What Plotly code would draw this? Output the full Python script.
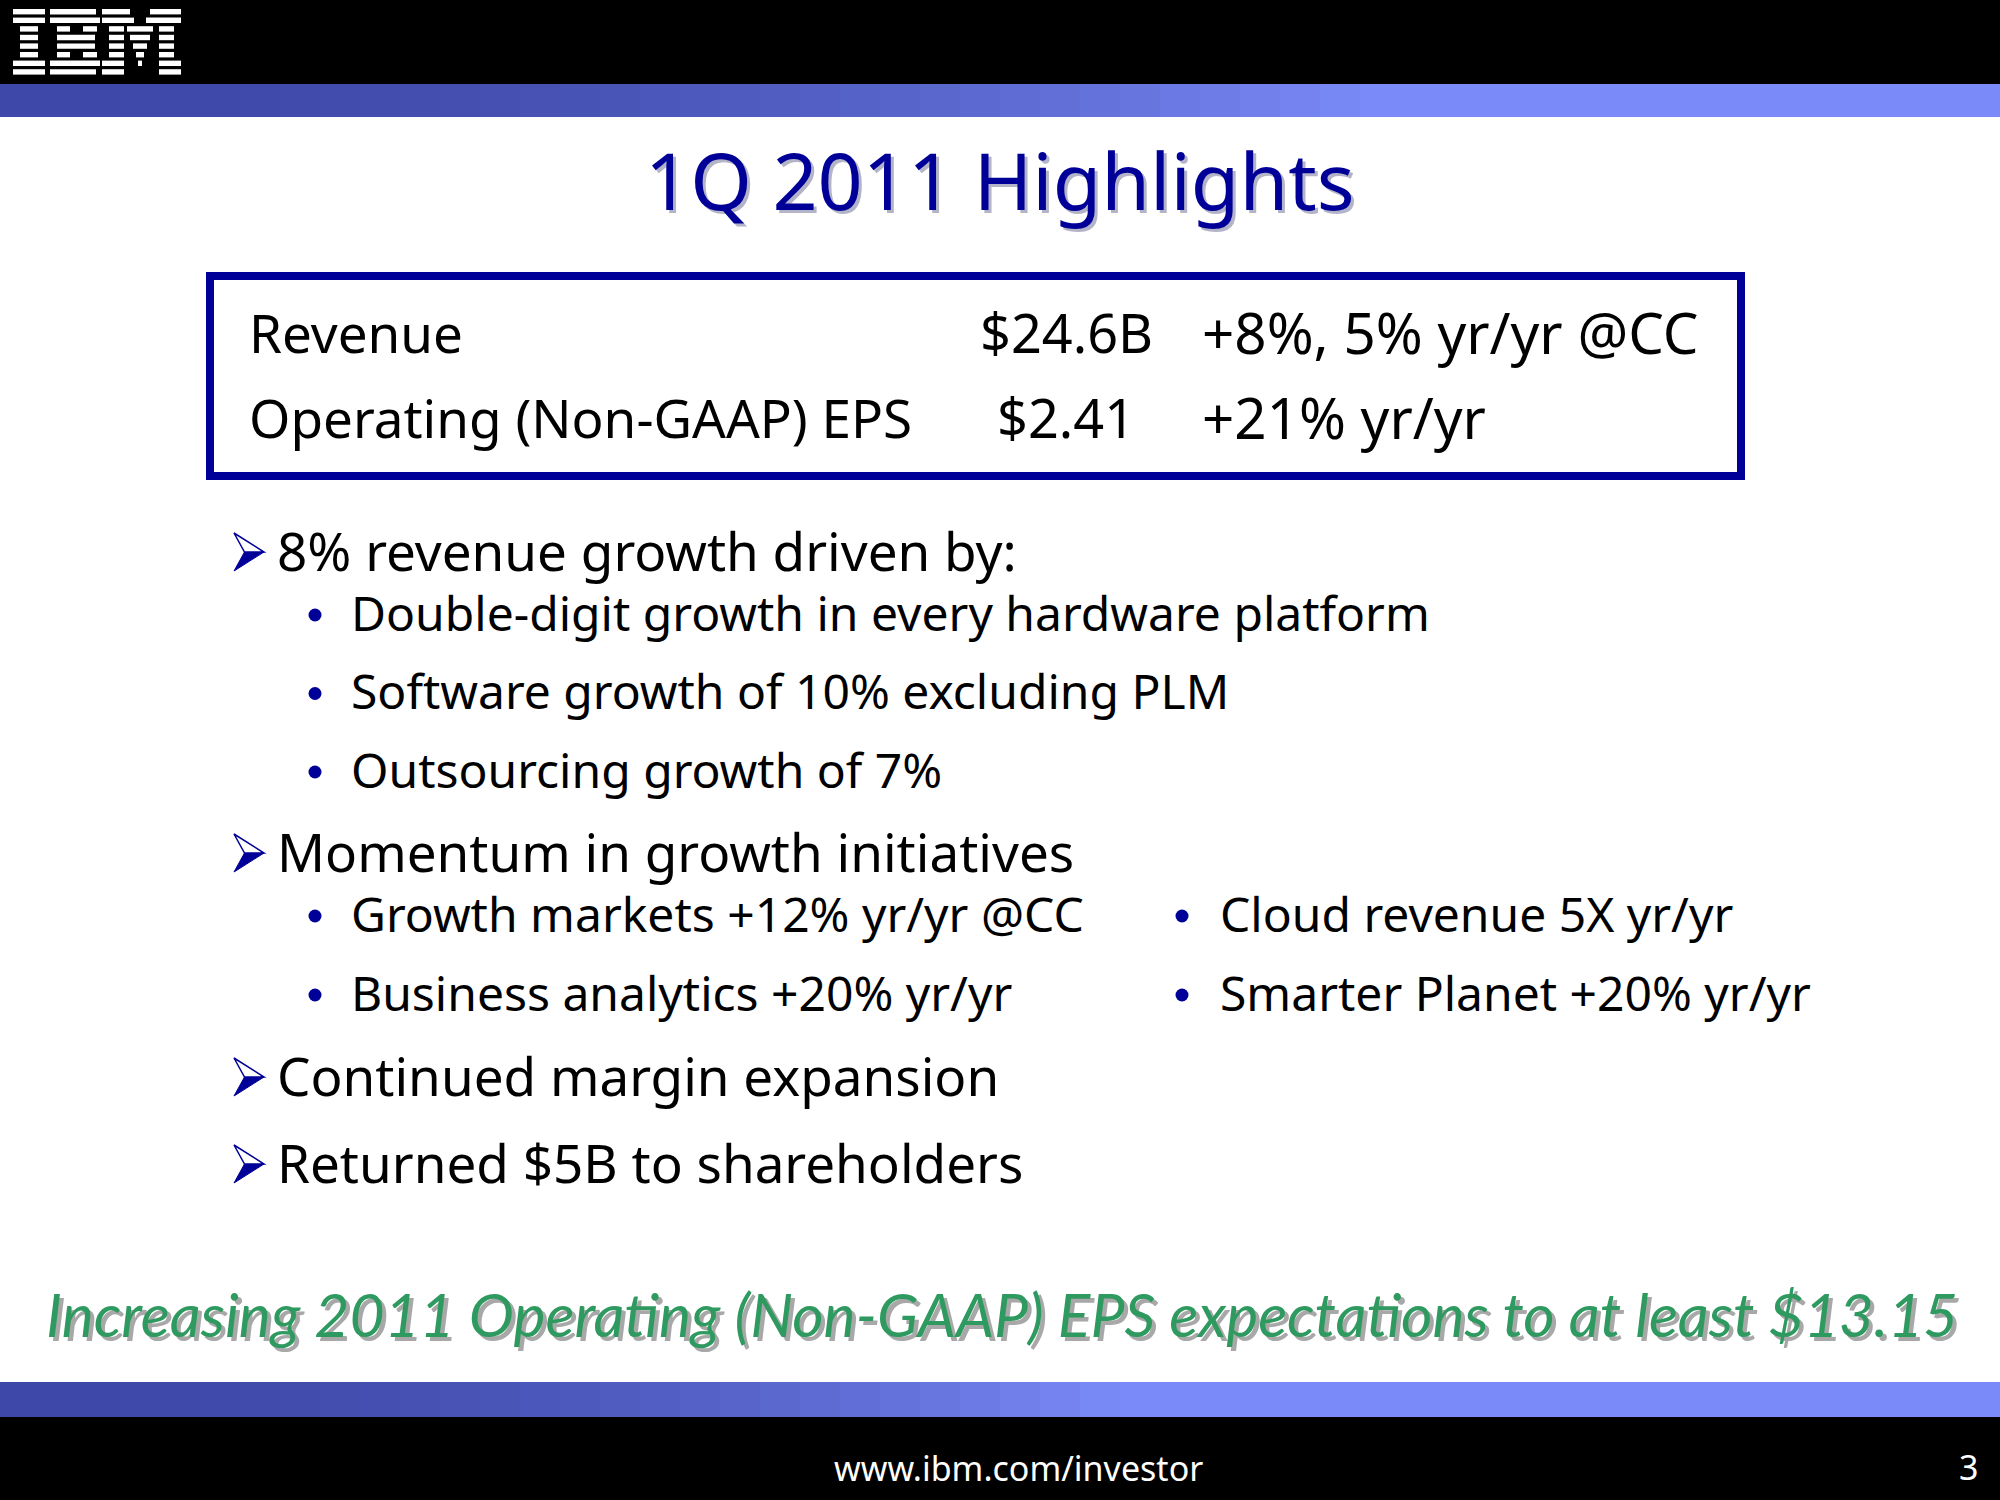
import plotly.graph_objects as go

# slide content
title_text = "1Q 2011 Highlights"
box_labels = ["Revenue", "Operating (Non-GAAP) EPS"]
box_values = ["$24.6B", "$2.41"]
box_changes = ["+8%, 5% yr/yr @CC", "+21% yr/yr"]
main_points = ["8% revenue growth driven by:", "Momentum in growth initiatives",
               "Continued margin expansion", "Returned $5B to shareholders"]
revenue_drivers = ["Double-digit growth in every hardware platform",
                   "Software growth of 10% excluding PLM",
                   "Outsourcing growth of 7%"]
initiatives_left = ["Growth markets +12% yr/yr @CC", "Business analytics +20% yr/yr"]
initiatives_right = ["Cloud revenue 5X yr/yr", "Smarter Planet +20% yr/yr"]
outlook_text = "Increasing 2011 Operating (Non-GAAP) EPS expectations to at least $13.15"
footer_url = "www.ibm.com/investor"
page_number = "3"

W, H = 2000, 1500
NAVY = "#000099"
FONT = "Noto Sans"

fig = go.Figure()
shapes = []
annots = []


def rect(x0, y0, x1, y1, color):
    shapes.append(dict(type="rect", x0=x0, y0=y0, x1=x1, y1=y1, xref="x", yref="y",
                       fillcolor=color, line=dict(width=0), layer="below"))


def text(x, y, s, size, color="black", anchor="left", family=FONT, italic=False):
    annots.append(dict(x=x, y=y, xref="x", yref="y", text=s, showarrow=False,
                       xanchor=anchor, yanchor="middle",
                       font=dict(family=family, size=size, color=color,
                                 style="italic" if italic else "normal")))


def mix(c0, c1, t):
    return "rgb(%d,%d,%d)" % tuple(round(a + (b - a) * t) for a, b in zip(c0, c1))


# header / footer bands
rect(0, 0, W, 84, "black")
rect(0, 1417, W, H, "black")
dark, light = (62, 72, 168), (122, 138, 248)
n = 50
for i in range(n):
    xa, xb = W * i / n, W * (i + 1) / n + 1
    t_top = min(1, (xa / 1350) ** 2)
    t_bot = min(1, (xa / 1100) ** 2)
    rect(xa, 84, xb, 117, mix(dark, light, t_top))
    rect(xa, 1382, xb, 1417, mix(dark, light, t_bot))

# IBM 8-bar logo
logo_rows = [
    [(13, 45), (50, 96), (102, 130), (150, 181)],
    [(13, 45), (50, 100), (102, 134), (146, 181)],
    [(20, 38), (57, 70), (83, 97), (109, 124), (127, 153), (159, 174)],
    [(20, 38), (57, 95), (109, 124), (130, 150), (159, 174)],
    [(20, 38), (57, 95), (109, 124), (133, 147), (159, 174)],
    [(20, 38), (57, 70), (83, 97), (109, 124), (136, 144), (159, 174)],
    [(13, 45), (50, 100), (102, 124), (138, 142), (159, 181)],
    [(13, 45), (50, 96), (102, 124), (159, 181)],
]
for r, segs in enumerate(logo_rows):
    y0 = 9 + r * 8.6
    for a, b in segs:
        rect(a, y0, b, y0 + 5.4, "white")

# title with drop shadow
text(W / 2 + 3, 182, title_text, 79, "#b4b4c8", anchor="center")
text(W / 2, 179, title_text, 79, NAVY, anchor="center")

# key figures box
shapes.append(dict(type="rect", x0=210, y0=276, x1=1741, y1=476, xref="x", yref="y",
                   line=dict(color=NAVY, width=8), fillcolor="rgba(0,0,0,0)"))
for i, (lab, val, chg) in enumerate(zip(box_labels, box_values, box_changes)):
    y = 332 + i * 85
    text(247, y, lab, 53)
    text(1066, y, val, 54, anchor="center")
    text(1200, y, chg, 56.5)


def arrow(x, y):
    w, h = 30, 38
    x0, y0 = x, y - h / 2
    # filled lower half and outlined upper half of the arrowhead
    shapes.append(dict(type="path", xref="x", yref="y",
                       path=f"M{x0},{y0 + h} L{x0 + w * 0.35},{y0 + h / 2} L{x0 + w},{y0 + h / 2} Z",
                       fillcolor=NAVY, line=dict(color=NAVY, width=1)))
    shapes.append(dict(type="path", xref="x", yref="y",
                       path=f"M{x0},{y0} L{x0 + w},{y0 + h / 2} L{x0 + w * 0.35},{y0 + h / 2} Z",
                       fillcolor="white", line=dict(color=NAVY, width=1.5)))


def dot(x, y):
    shapes.append(dict(type="circle", xref="x", yref="y", x0=x - 6.5, y0=y - 6.5,
                       x1=x + 6.5, y1=y + 6.5, fillcolor=NAVY, line=dict(width=0)))


main_y = [550, 851, 1075, 1162]
for s, y in zip(main_points, main_y):
    arrow(234, y + 2)
    text(275, y, s, 53)

for i, s in enumerate(revenue_drivers):
    y = 612 + i * 78.5
    dot(315, y + 3)
    text(349, y, s, 48)

for i, (sl, sr) in enumerate(zip(initiatives_left, initiatives_right)):
    y = 913 + i * 79
    dot(315, y + 3)
    text(349, y, sl, 48)
    dot(1182, y + 3)
    text(1218, y, sr, 48)

# outlook line with shadow
text(44 + 4, 1317, outlook_text, 60.5, "#a8a8a8", family="Lato", italic=True)
text(44, 1313, outlook_text, 60.5, "#2f9a60", family="Lato", italic=True)

# footer
text(1018, 1468, footer_url, 34, "white", anchor="center")
text(1968, 1467, page_number, 34, "white", anchor="center")

fig.update_layout(
    width=W, height=H, margin=dict(l=0, r=0, t=0, b=0),
    paper_bgcolor="white", plot_bgcolor="white",
    xaxis=dict(range=[0, W], visible=False, fixedrange=True),
    yaxis=dict(range=[H, 0], visible=False, fixedrange=True),
    shapes=shapes, annotations=annots, showlegend=False,
)

fig.write_html("out.html", config={"displayModeBar": False},
               post_script="document.body.style.margin='0';")
